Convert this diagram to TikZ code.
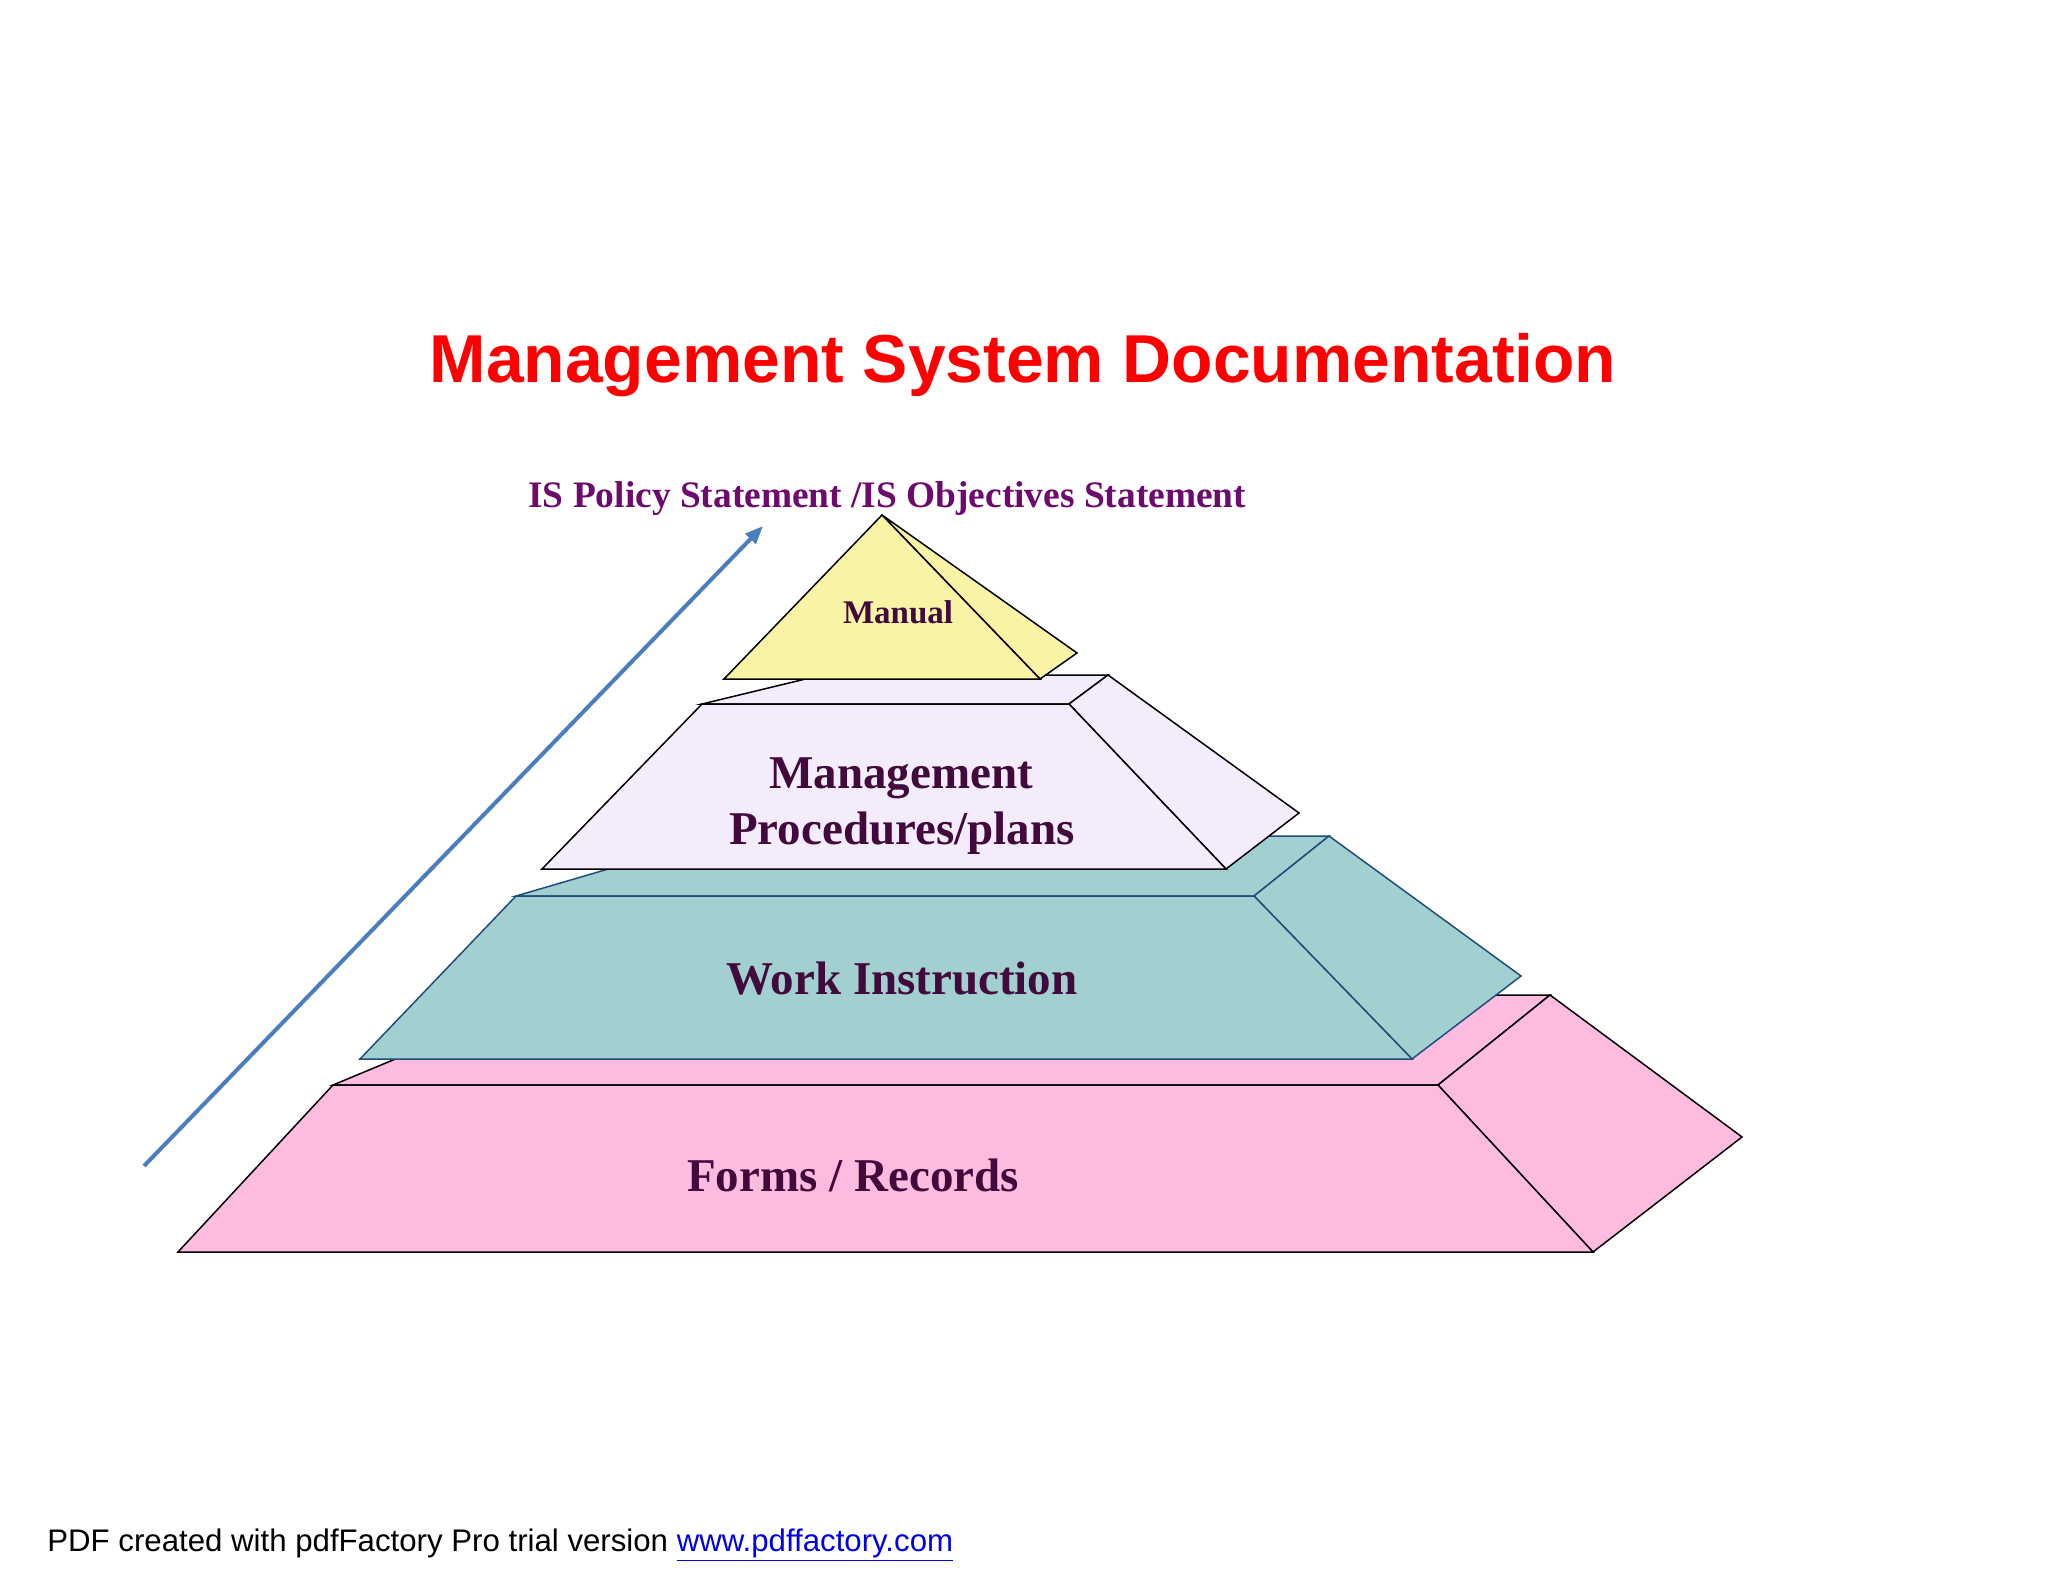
\documentclass[tikz,border=0pt]{standalone}
\usepackage{fontspec}
\setmainfont{Liberation Serif}
\setsansfont{Liberation Sans}
\usetikzlibrary{arrows.meta}
\definecolor{titlered}{HTML}{FF0000}
\definecolor{ispurple}{HTML}{6E0A6E}
\definecolor{lbl}{HTML}{420A3C}
\definecolor{manualfill}{HTML}{F9F3A6}
\definecolor{mgmtfill}{HTML}{F3ECFC}
\definecolor{workfill}{HTML}{A2D0D0}
\definecolor{workline}{HTML}{1F4E79}
\definecolor{formfill}{HTML}{FDBCDF}
\definecolor{arrowblue}{HTML}{4A7EBE}
\definecolor{linkblue}{HTML}{0000EE}
\tikzset{
  face/.style={line width=0.75pt, line join=miter},
  layerlabel/.style={font=\fontsize{23.5pt}{28pt}\selectfont\bfseries, text=lbl, anchor=base, inner sep=0pt},
}
\begin{document}
\begin{tikzpicture}[x=0.5pt,y=-0.5pt]
\useasboundingbox (0,0) rectangle (2048,1582);
\fill[white] (0,0) rectangle (2048,1582);

% Forms / Records layer
\filldraw[face, fill=formfill, draw=black] (333,1085) -- (549,995) -- (1550,995) -- (1438,1085) -- cycle;
\filldraw[face, fill=formfill, draw=black] (1438,1085) -- (1550,995) -- (1742,1137) -- (1593,1252) -- cycle;
\filldraw[face, fill=formfill, draw=black] (333,1085) -- (1438,1085) -- (1593,1252) -- (178,1252) -- cycle;

% Work Instruction layer
\filldraw[face, fill=workfill, draw=workline] (516,896) -- (721,836) -- (1329,836) -- (1254,896) -- cycle;
\filldraw[face, fill=workfill, draw=workline] (1254,896) -- (1329,836) -- (1521,976) -- (1412,1059) -- cycle;
\filldraw[face, fill=workfill, draw=workline] (516,896) -- (1254,896) -- (1412,1059) -- (360,1059) -- cycle;

% Management layer
\filldraw[face, fill=mgmtfill, draw=black] (702,704) -- (822,675) -- (1108,675) -- (1069,704) -- cycle;
\filldraw[face, fill=mgmtfill, draw=black] (1069,704) -- (1108,675) -- (1299,813) -- (1226,869) -- cycle;
\filldraw[face, fill=mgmtfill, draw=black] (702,704) -- (1069,704) -- (1226,869) -- (542,869) -- cycle;

% Manual
\filldraw[face, fill=manualfill, draw=black] (882,515) -- (1040,679) -- (1077,653) -- cycle;
\filldraw[face, fill=manualfill, draw=black] (882,515) -- (724,679) -- (1040,679) -- cycle;

% arrow
\coordinate (arrS) at (144,1166);
\coordinate (arrE) at (763,526);
\draw[arrowblue, line width=2pt, -{Triangle[length=9pt,width=7pt]}] (arrS) -- (arrE);

% texts
\node[font=\sffamily\bfseries\fontsize{33.9pt}{40pt}\selectfont, text=titlered, anchor=base, inner sep=0pt] (title) at (1023,383) {Management System Documentation};
\node[font=\bfseries\fontsize{18.7pt}{22pt}\selectfont, text=ispurple, anchor=base west, inner sep=0pt] (policy) at (528,508) {IS Policy Statement /IS Objectives Statement};
\node[layerlabel, font=\fontsize{16.5pt}{20pt}\selectfont\bfseries] (manual) at (898,624) {Manual};
\node[layerlabel] (mgmt1) at (901,788) {Management};
\node[layerlabel] (mgmt2) at (902,844) {Procedures/plans};
\node[layerlabel] (work) at (902,994) {Work Instruction};
\node[layerlabel] (forms) at (853,1191) {Forms / Records};
\node[font=\sffamily\fontsize{15.6pt}{18pt}\selectfont, anchor=base west, inner sep=0pt] (footer) at (47,1551) {PDF created with pdfFactory Pro trial version \textcolor{linkblue}{\underline{www.pdffactory.com}}};
\end{tikzpicture}
\end{document}
